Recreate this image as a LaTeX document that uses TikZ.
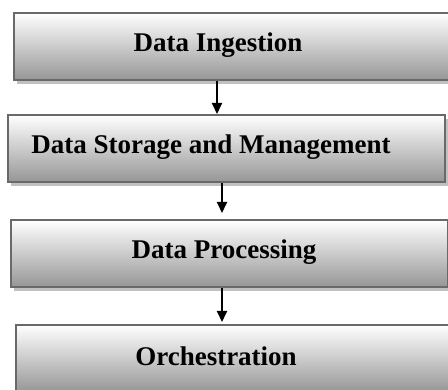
\documentclass[tikz,border=0pt]{standalone}
\usepackage{fontspec}
\setmainfont{Liberation Serif}
\usetikzlibrary{arrows.meta,shadows}
\definecolor{boxline}{RGB}{105,105,105}
\definecolor{boxbot}{RGB}{150,150,150}
\definecolor{shadowgray}{RGB}{192,192,192}

\begin{document}
\begin{tikzpicture}[x=1pt, y=-1pt,
	stage/.style={draw=boxline, line width=2pt, top color=white, bottom color=boxbot,
		inner sep=0pt, anchor=north west, minimum width=447pt, minimum height=67pt,
		drop shadow={shadow xshift=3pt, shadow yshift=-4pt, fill=shadowgray, opacity=1}},
	stagetext/.style={font=\bfseries\fontsize{27}{31}\selectfont},
	flow/.style={line width=2pt, -{Triangle[length=11pt,width=10pt]}}]
	\useasboundingbox (0, 0) rectangle (448, 390);
	\clip (0, 0) rectangle (448, 390);
	% stages
	\node[stage] (b1) at (13, 12) {};
	\node[stage, minimum width=437pt] (b2) at (7, 114) {};
	\node[stage, minimum width=437pt] (b3) at (10, 219) {};
	\node[stage] (b4) at (15, 324) {};
	\node[stagetext] (t1) at (218, 45) {Data Ingestion};
	\node[stagetext] (t2) at (211, 147) {Data Storage and Management};
	\node[stagetext] (t3) at (224, 252) {Data Processing};
	\node[stagetext] (t4) at (216, 356) {Orchestration};
	% arrows
	\draw[flow] (b1.south -| 217, 0) -- (b2.north -| 217, 0);
	\draw[flow] (b2.south -| 222, 0) -- ([yshift=6pt]b3.north -| 222, 0);
	\draw[flow] (b3.south -| 222, 0) -- ([yshift=2pt]b4.north -| 222, 0);
\end{tikzpicture}
\end{document}
